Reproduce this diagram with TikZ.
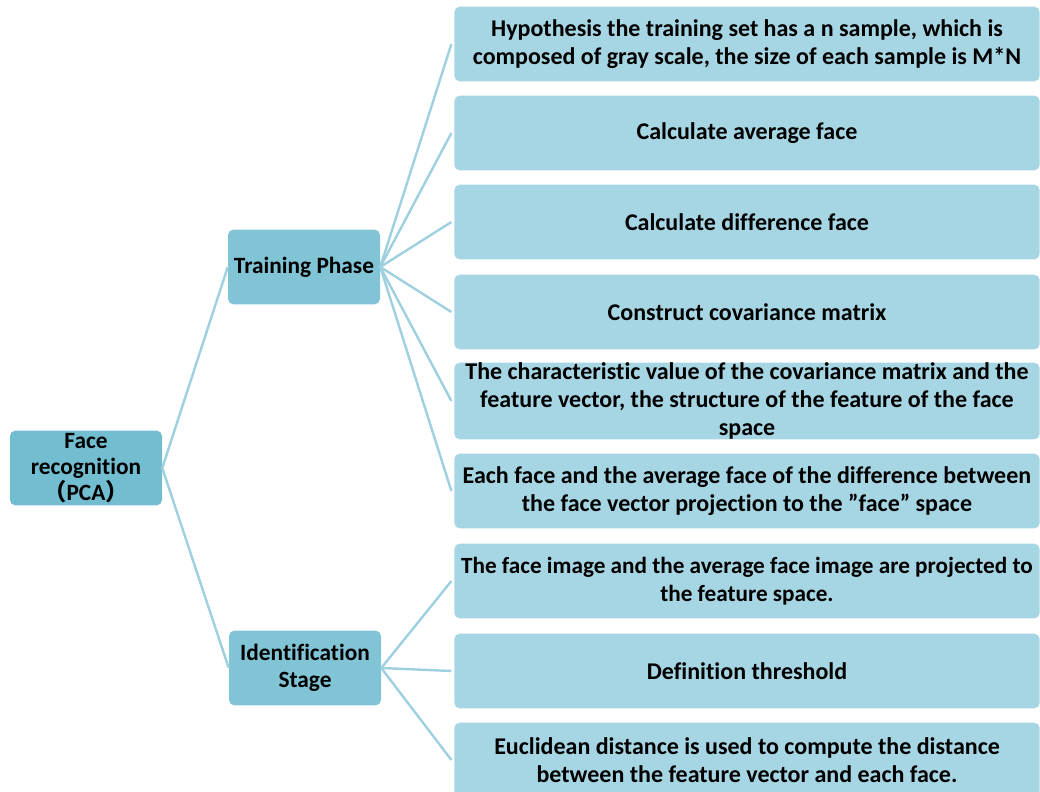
\documentclass[tikz,border=0pt]{standalone}
\usepackage{fontspec}
\setmainfont{Carlito}[Ligatures=NoCommon]
\newfontfamily\cjkfont{Noto Sans CJK SC}

\definecolor{rootfill}{RGB}{114,189,208}
\definecolor{phasefill}{RGB}{128,196,214}
\definecolor{stepfill}{RGB}{166,213,227}
\definecolor{linkcol}{RGB}{158,208,223}

\tikzset{
  box/.style={rounded corners=4pt, inner sep=0pt, align=center,
    font=\bfseries\fontsize{18}{21}\selectfont},
  rootbox/.style={box, fill=rootfill, minimum width=114pt, minimum height=56pt,
    font=\bfseries\fontsize{17.5}{19.5}\selectfont},
  phasebox/.style={box, fill=phasefill, minimum width=114pt, minimum height=56pt,
    font=\bfseries\fontsize{17.5}{20}\selectfont},
  stepbox/.style={box, fill=stepfill, minimum width=439pt, minimum height=56pt},
  link/.style={draw=linkcol, line width=1.8pt}
}

\begin{document}
\begin{tikzpicture}[x=0.75pt,y=0.75pt,yscale=-1,xscale=1]
\useasboundingbox (0,0) rectangle (1040,792);

% root and phases
\node [rootbox] (root) at (86,468) {Face\\recognition\\{\cjkfont （}PCA{\cjkfont ）}};
\node [phasebox] (train) at (304,267) {Training Phase};
\node [phasebox] (ident) at (305,668) {Identification\\Stage};

% training steps
\node [stepbox] (t1) at (747,44) {Hypothesis the training set has a n sample, which is\\composed of gray scale, the size of each sample is M*N};
\node [stepbox] (t2) at (747,133) {Calculate average face};
\node [stepbox] (t3) at (747,222) {Calculate difference face};
\node [stepbox] (t4) at (747,312) {Construct covariance matrix};
\node [stepbox] (t5) at (747,401) {The characteristic value of the covariance matrix and the\\feature vector, the structure of the feature of the face\\space};
\node [stepbox] (t6) at (747,491) {Each face and the average face of the difference between\\the face vector projection to the \symbol{34}face\symbol{34} space};

% identification steps
\node [stepbox, font=\bfseries\fontsize{17.4}{21}\selectfont] (s1) at (747,581) {The face image and the average face image are projected to\\the feature space.};
\node [stepbox] (s2) at (747,671) {Definition threshold};
\node [stepbox] (s3) at (747,760) {Euclidean distance is used to compute the distance\\between the feature vector and each face.};

% links
\draw [link] (root.east) -- (train.west);
\draw [link] (root.east) -- (ident.west);
\foreach \n in {t1,t2,t3,t4,t5,t6}
  \draw [link] (train.east) -- ([xshift=-2pt]\n.west);
\foreach \n in {s1,s2,s3}
  \draw [link] (ident.east) -- ([xshift=-2pt]\n.west);

\end{tikzpicture}
\end{document}
